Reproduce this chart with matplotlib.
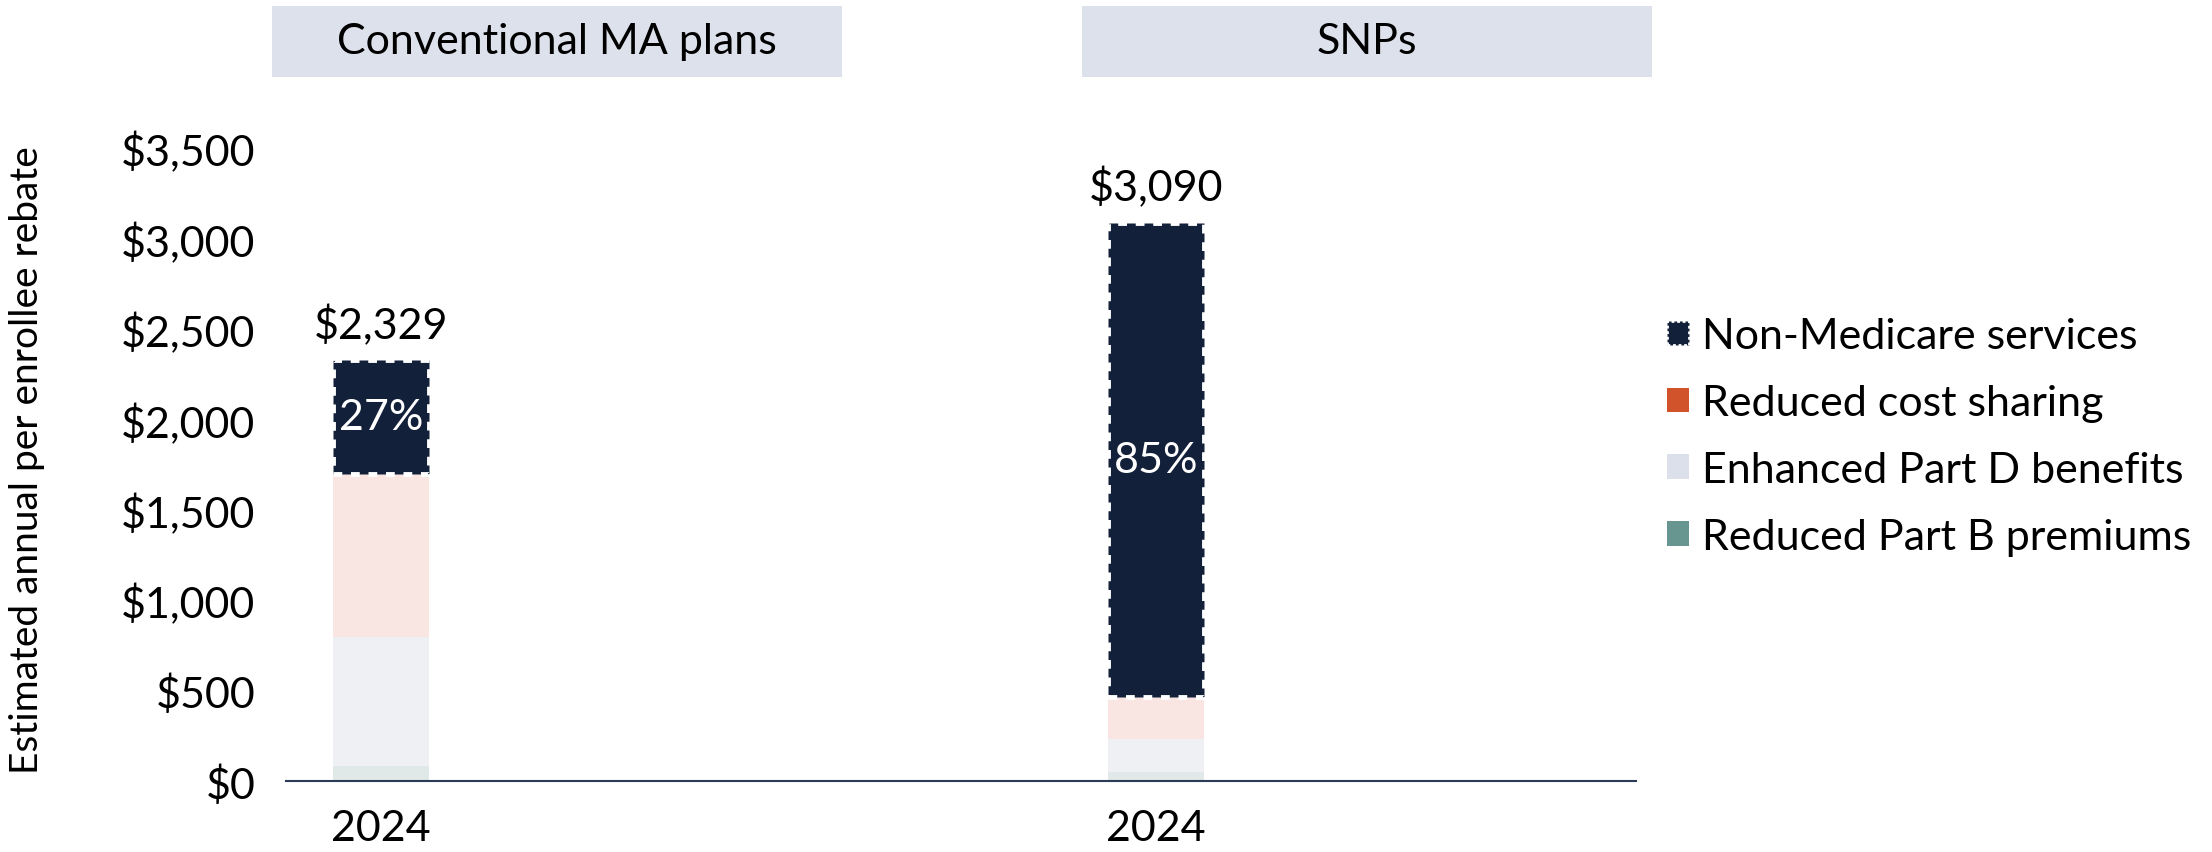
import matplotlib.pyplot as plt
from matplotlib.patches import Rectangle, Patch
import numpy as np

plt.rcParams['font.family'] = ['Lato', 'DejaVu Sans']

# data
groups = ['Conventional MA plans', 'SNPs']
years = ['2024', '2024']
totals = [2329, 3090]
part_b = [85, 50]
part_d = [710, 180]
cost_sharing = [905, 233]
non_medicare = [629, 2627]
pct_labels = ['27%', '85%']

series_names = ['Non-Medicare services', 'Reduced cost sharing',
                'Enhanced Part D benefits', 'Reduced Part B premiums']
legend_colors = ['#13203a', '#d0532b', '#dce0ea', '#679590']
bar_colors = ['#13203a', '#f9e6e3', '#eff0f4', '#e0e9e8']

fig = plt.figure(figsize=(22.12, 8.53), dpi=100)
ax = fig.add_axes([0.1293, 0.0832, 0.6103, 0.7415])

x = np.arange(len(groups))
w = 0.124
bottom = np.zeros(len(groups))
for vals, col in [(part_b, bar_colors[3]), (part_d, bar_colors[2]),
                  (cost_sharing, bar_colors[1])]:
    ax.bar(x, vals, w, bottom=bottom, color=col, linewidth=0)
    bottom += np.array(vals)
# dashed white outline on the non-Medicare segment
nm = ax.bar(x, non_medicare, w, bottom=bottom, color=bar_colors[0],
            edgecolor='white', linewidth=3.5, linestyle=(0, (1.8, 1.8)))

for i in range(len(groups)):
    ax.text(x[i], bottom[i] + non_medicare[i] / 2, pct_labels[i], color='white',
            ha='center', va='center', fontsize=31)
    ax.annotate('${:,}'.format(totals[i]), (x[i], totals[i]), xytext=(0, 11),
                textcoords='offset points', ha='center', va='bottom', fontsize=31)

ax.set_xlim(-0.1226, 1.619)
ax.set_ylim(0, 3500)
ax.set_yticks(np.arange(0, 3501, 500))
ax.set_yticklabels(['${:,}'.format(v) for v in range(0, 3501, 500)])
ax.set_xticks(x)
ax.set_xticklabels(years)
ax.tick_params(axis='both', length=0, labelsize=31)
ax.tick_params(axis='y', pad=22)
ax.tick_params(axis='x', pad=20)
for s in ['top', 'right', 'left']:
    ax.spines[s].set_visible(False)
ax.spines['bottom'].set_color('#2b3a55')
ax.spines['bottom'].set_linewidth(1.5)

fig.text(0.012, 0.46, 'Estimated annual per enrollee rebate', rotation=90,
         ha='center', va='center', fontsize=28)

# header boxes
for x0, name in [(0.123, groups[0]), (0.4892, groups[1])]:
    fig.patches.append(Rectangle((x0, 0.9086), 0.2577, 0.0832, transform=fig.transFigure,
                                 facecolor='#dde1eb', edgecolor='none'))
    fig.text(x0 + 0.2577 / 2, 0.9086 + 0.0832 / 2, name, ha='center', va='center',
             fontsize=31)

handles = [Patch(facecolor=legend_colors[0], edgecolor='white', linestyle=(0, (1, 1)), linewidth=2)]
handles += [Patch(facecolor=c, edgecolor='none') for c in legend_colors[1:]]
fig.legend(handles, series_names, loc='center left', bbox_to_anchor=(0.744, 0.487),
           frameon=False, fontsize=31, handlelength=0.5, handleheight=0.5,
           handletextpad=0.3, labelspacing=0.67, borderpad=0)

fig.savefig('out.png', dpi=100)
